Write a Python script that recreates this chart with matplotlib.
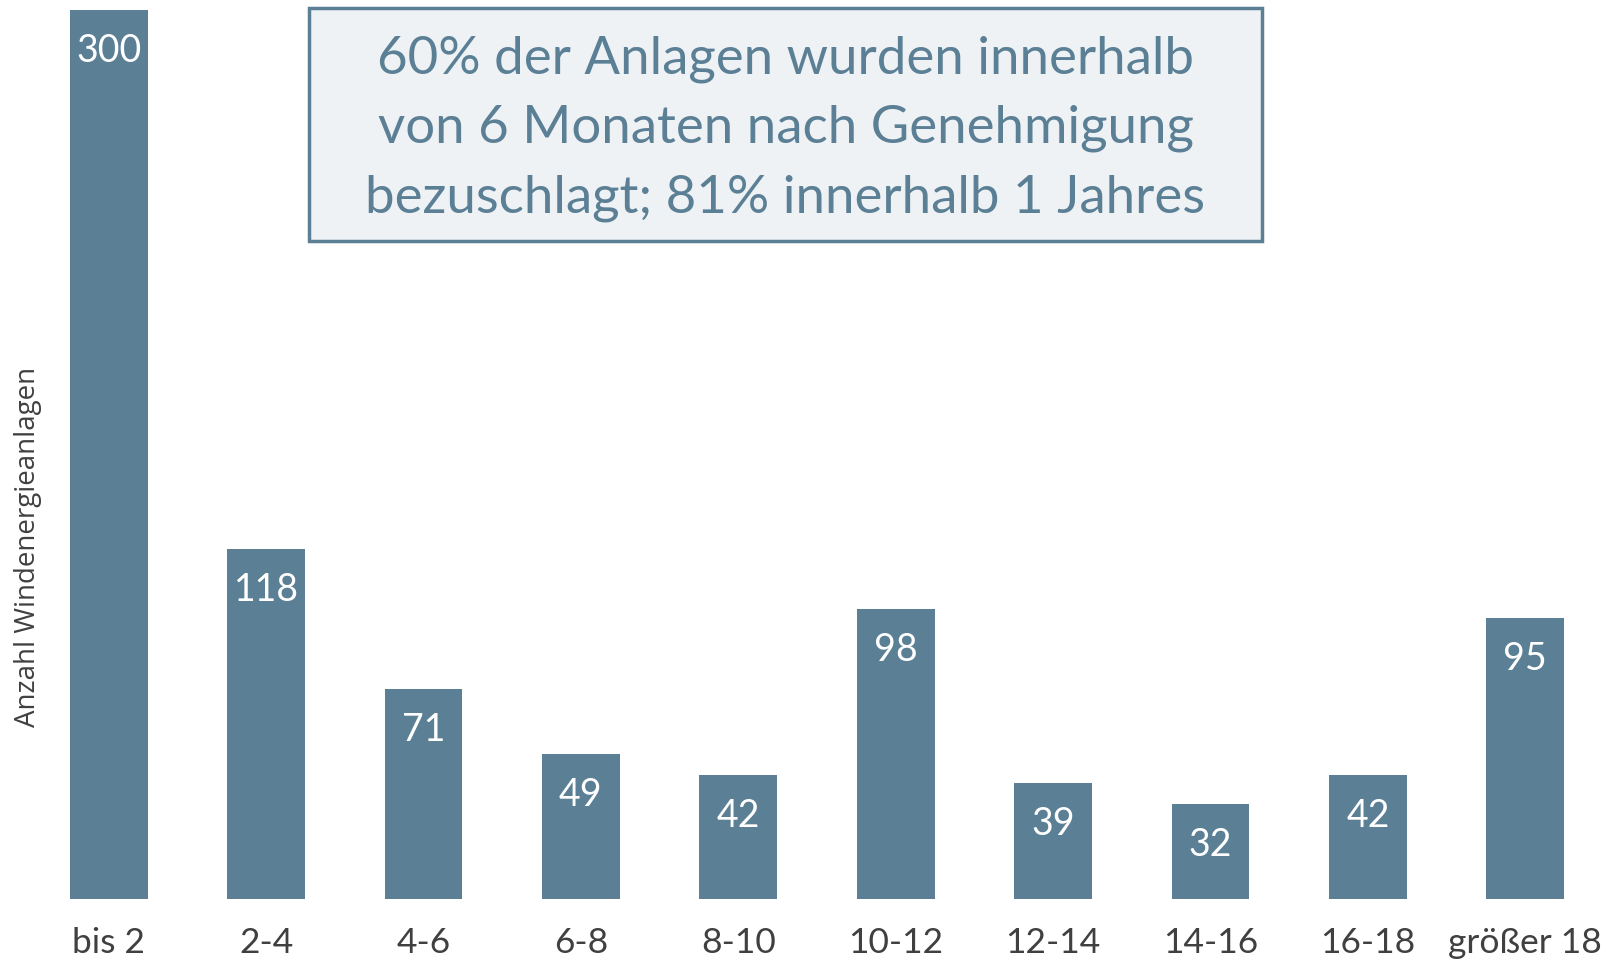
import matplotlib
matplotlib.use("Agg")
import matplotlib.pyplot as plt

categories = ["bis 2", "2-4", "4-6", "6-8", "8-10", "10-12", "12-14", "14-16", "16-18", "größer 18"]
values = [300, 118, 71, 49, 42, 98, 39, 32, 42, 95]
y_label = "Anzahl Windenergieanlagen"
box_text = "60% der Anlagen wurden innerhalb\nvon 6 Monaten nach Genehmigung\nbezuschlagt; 81% innerhalb 1 Jahres"

bar_color = "#5B7F95"
text_dark = "#404040"
font = "Lato"

fig = plt.figure(figsize=(16.24, 9.6), dpi=100)
ax = fig.add_axes([30/1624, 1 - 899/960, (1604-30)/1624, (899-10.4)/960])
x = list(range(len(categories)))
ax.bar(x, values, width=0.494, color=bar_color)
ax.set_xlim(-0.5, len(categories) - 0.5)
ax.set_ylim(0, 300)
for s in ax.spines.values():
    s.set_visible(False)
ax.set_yticks([])
ax.set_xticks(x)
ax.set_xticklabels(categories, fontsize=25.5, color=text_dark, family=font)
ax.tick_params(axis="x", length=0, pad=20)

for xi, v in zip(x, values):
    ax.annotate(str(v), (xi, v), xytext=(0, -41), textcoords="offset pixels",
                ha="center", va="center", color="white", fontsize=27, family=font)

fig.text(28/1624, 1 - 547/960, y_label, rotation=90, ha="center", va="center",
         fontsize=20, color=text_dark, family="Open Sans")

# text box
bx0, by0, bx1, by1 = 309, 8, 1262, 241
fig.patches.append(plt.Rectangle((bx0/1624, 1 - by1/960), (bx1-bx0)/1624, (by1-by0)/960,
                                 transform=fig.transFigure, facecolor="#EEF2F5",
                                 edgecolor=bar_color, linewidth=2.5))
for i, line in enumerate(box_text.split("\n")):
    fig.text((bx0+bx1)/2/1624, 1 - (59 + 69.5*i)/960, line, ha="center", va="center",
             fontsize=38, color=bar_color, family=font)

fig.savefig("out.png", dpi=100)
